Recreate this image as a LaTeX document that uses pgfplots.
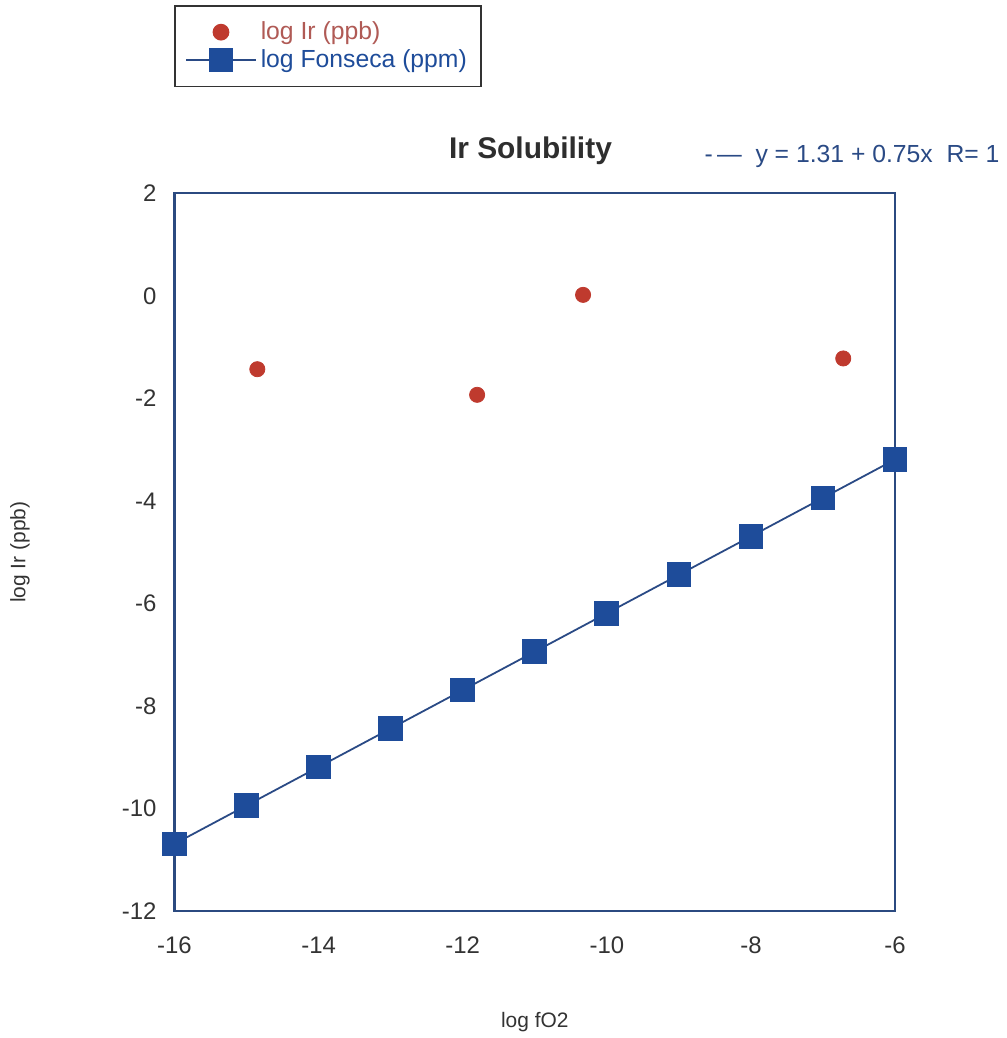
\documentclass[border=0pt]{standalone}
\usepackage{fontspec}
\setmainfont{Liberation Sans}
\usepackage{pgfplots}
\pgfplotsset{compat=1.18}
\definecolor{frameblue}{HTML}{2B4A80}
\definecolor{sqblue}{HTML}{1E4C9A}
\definecolor{linblue}{HTML}{2A4A85}
\definecolor{ptred}{HTML}{BF3A2E}
\definecolor{legred}{HTML}{B05A55}
\definecolor{txtgray}{HTML}{333333}
\begin{document}
\begin{tikzpicture}
\begin{axis}[
  scale only axis,
  width=361.5pt, height=360pt,
  xmin=-16, xmax=-6, ymin=-12, ymax=2,
  xtick={-16,-14,...,-6}, ytick={-12,-10,...,2},
  major tick length=0pt, minor tick num=0,
  axis line style={frameblue, line width=1.1pt},
  /pgf/number format/assume math mode=true,
  tick label style={font=\fontsize{12}{14}\selectfont, text=txtgray},
  yticklabel style={xshift=-5.5pt},
  xticklabel style={yshift=-9.5pt},
  xlabel={log fO2},
  ylabel={log Ir (ppb)},
  label style={font=\fontsize{10.5}{12}\selectfont, text=txtgray},
  xlabel style={at={(axis description cs:0.5,-0.154)}, anchor=center},
  ylabel style={at={(axis description cs:-0.2144,0.5)}, anchor=center},
  legend style={at={(axis description cs:0,1.2625)}, anchor=north west,
    draw=black!80, line width=0.8pt, inner xsep=5pt, inner ysep=6pt,
    font=\fontsize{12.4}{14}\selectfont, row sep=-0.5pt,
    nodes={inner xsep=2pt}},
  legend cell align=left,
  clip=false,
]
\addplot[only marks, mark=*, mark size=3.8pt, color=ptred, mark options={fill=ptred, draw=ptred},
  legend image code/.code={\draw[only marks, mark=*, mark size=3.8pt, color=ptred, mark options={fill=ptred}] plot coordinates {(0.615cm,0cm)};}]
  coordinates {(-14.85,-1.43) (-11.8,-1.93) (-10.33,0.02) (-6.72,-1.22)};
\addlegendentry{\textcolor{legred}{log Ir (ppb)}}
\addplot[color=linblue, line width=0.9pt, mark=square*, mark size=5.75pt, mark options={fill=sqblue, draw=sqblue},
  legend image code/.code={\draw[color=linblue, line width=0.9pt, mark=square*, mark size=5.75pt, mark options={fill=sqblue, draw=sqblue}, mark repeat=2, mark phase=2] plot coordinates {(0cm,0cm) (0.615cm,0cm) (1.23cm,0cm)};}]
  coordinates {(-16,-10.69) (-15,-9.94) (-14,-9.19) (-13,-8.44) (-12,-7.69) (-11,-6.94) (-10,-6.19) (-9,-5.44) (-8,-4.69) (-7,-3.94) (-6,-3.19)};
\addlegendentry{\textcolor{sqblue}{log Fonseca (ppm)}}
\node[font=\bfseries\fontsize{15}{17}\selectfont, text=txtgray!90!black] at (axis description cs:0.494,1.06) {Ir Solubility};
\node[anchor=west, font=\fontsize{12.4}{14}\selectfont, text=linblue] at (axis description cs:0.726,1.052) {-\,—\; y = 1.31 + 0.75x\ \ R= 1};
\end{axis}
\path (current axis.south west) ++(-87.5pt,-62pt) rectangle ++(501.5pt,519pt);
\end{tikzpicture}
\end{document}
